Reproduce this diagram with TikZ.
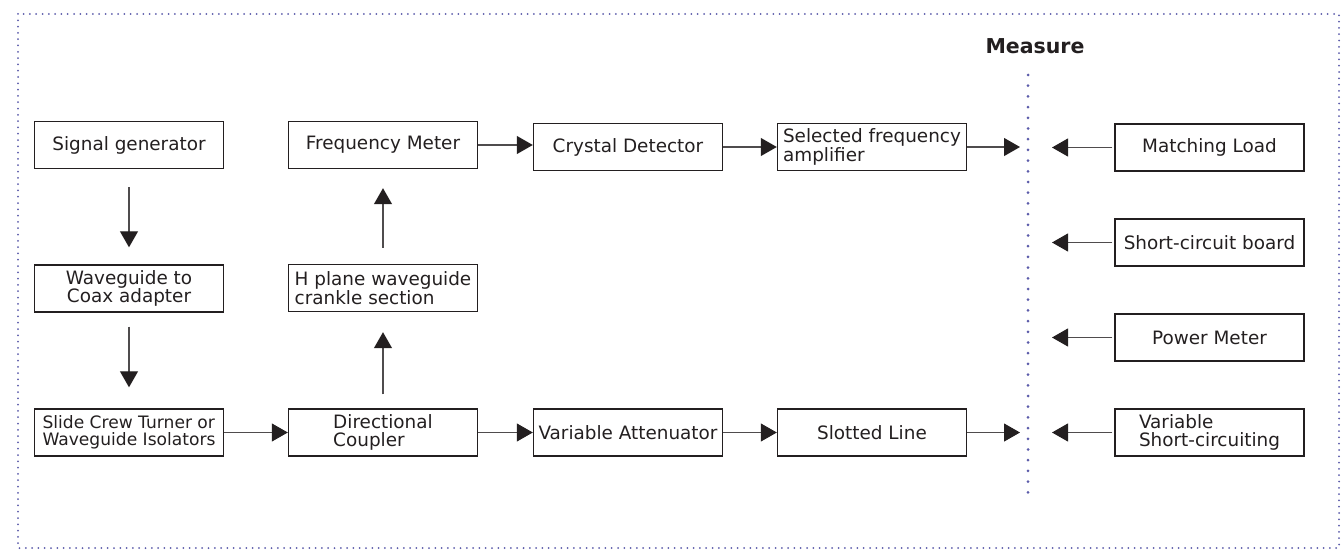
\documentclass[tikz,border=0pt]{standalone}
\usepackage{fontspec}
\setmainfont{DejaVu Sans}
\usetikzlibrary{arrows.meta}
\definecolor{ink}{HTML}{231F20}
\definecolor{dotc}{RGB}{92,92,170}
\begin{document}
\begin{tikzpicture}[x=1pt,y=-1pt,
  box/.style={draw=ink, line width=1.4pt, minimum width=189pt, minimum height=47pt, inner sep=0pt,
    font=\fontsize{18.4}{17.5}\selectfont, text=ink, align=left},
  arr/.style={draw=ink!80, line width=1.1pt, -{Triangle[length=16pt,width=18pt,color=ink]}},
  dotline/.style={draw=dotc, line cap=round}
]
\useasboundingbox (0,0) rectangle (1344,551);
\draw[dotline, line width=2pt, dash pattern=on 0pt off 6.3pt] (18,14) rectangle (1339,548);
\draw[dotline, line width=3pt, dash pattern=on 0pt off 10.7pt] (1028,75) -- (1028,500);

\node[font=\bfseries\fontsize{20.5}{24}\selectfont, text=ink, anchor=base] (meas) at (1035,54) {Measure};

% left column
\node[box] (sg) at (129,145) {Signal generator};
\node[box, align=center] (wc) at (129,288.5) {Waveguide to\\Coax adapter};
\node[box, font=\fontsize{17.1}{16.5}\selectfont] (sc) at (129,432.5) {Slide Crew Turner or\\Waveguide Isolators};
% second column
\node[box] (fm) at (383,145) {Frequency Meter};
\node[box] (hp) at (383,288) {H plane waveguide\\crankle section};
\node[box] (dc) at (383,432.5) {Directional\\Coupler};
% third column
\node[box] (cd) at (628,147) {Crystal Detector};
\node[box] (va) at (628,432.5) {Variable Attenuator};
% fourth column
\node[box] (sfa) at (872,147) {Selected frequency\\amplifier};
\node[box] (sl) at (872,432.5) {Slotted Line};
% right column
\node[box] (ml) at (1209.5,147.5) {Matching Load};
\node[box] (scb) at (1209.5,242.5) {Short-circuit board};
\node[box] (pm) at (1209.5,337.5) {Power Meter};
\node[box] (vs) at (1209.5,432.5) {Variable\\Short-circuiting};

\coordinate (m1) at (1020,147);
\coordinate (m4) at (1020,432.5);
\coordinate (r1) at (1052,147.5);
\coordinate (r2) at (1052,242.5);
\coordinate (r3) at (1052,337.5);
\coordinate (r4) at (1052,432.5);

% connectors
\draw[arr, shorten <=18pt, shorten >=17pt] (sg) -- (wc);
\draw[arr, shorten <=14pt, shorten >=21pt] (wc) -- (sc);
\draw[arr] (sc) -- (dc);
\draw[arr, shorten <=14pt, shorten >=20pt] (dc) -- (hp);
\draw[arr, shorten <=16pt, shorten >=19pt] (hp) -- (fm);
\draw[arr] (fm.east) -- (fm.east -| cd.west);
\draw[arr] (cd) -- (sfa);
\draw[arr] (dc) -- (va);
\draw[arr] (va) -- (sl);
\draw[arr] (sfa.east |- m1) -- (m1);
\draw[arr] (sl.east |- m4) -- (m4);
\draw[arr, shorten <=2pt] (ml.west |- r1) -- (r1);
\draw[arr, shorten <=2pt] (scb.west |- r2) -- (r2);
\draw[arr, shorten <=2pt] (pm.west |- r3) -- (r3);
\draw[arr, shorten <=2pt] (vs.west |- r4) -- (r4);
\end{tikzpicture}
\end{document}
